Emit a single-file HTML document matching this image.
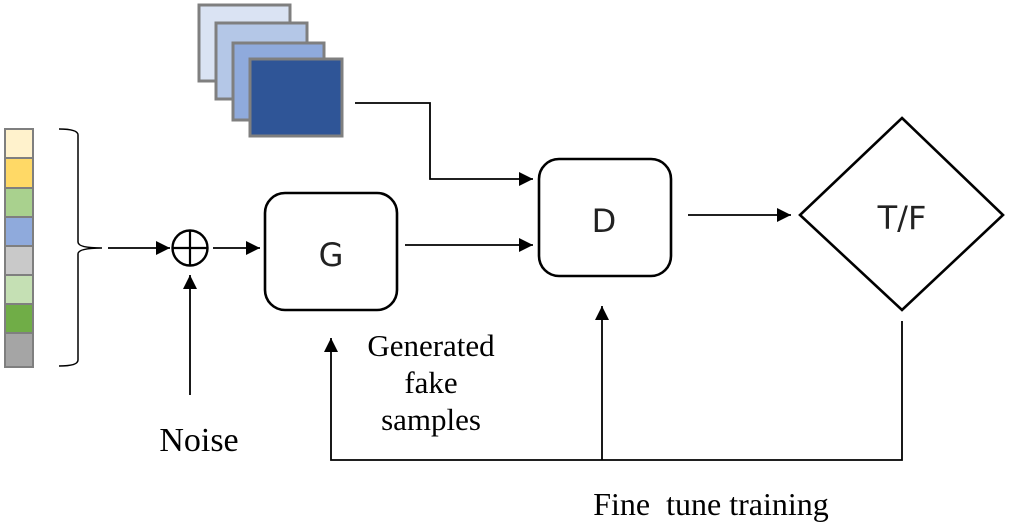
<!DOCTYPE html>
<html><head><meta charset="utf-8"><style>
html,body{margin:0;padding:0;background:#fff;}
svg{display:block;}
</style></head><body>
<svg width="1010" height="526" viewBox="0 0 1010 526" xmlns="http://www.w3.org/2000/svg">
<defs>
<marker id="b" viewBox="0 0 10 10" markerWidth="17" markerHeight="14" refX="10" refY="5" orient="auto" markerUnits="userSpaceOnUse"><path d="M0,0 L10,5 L0,10 z" fill="#000"/></marker></defs>
<g stroke="#7f7f7f" stroke-width="3">
<rect x="199" y="5" width="91" height="76" fill="#dae3f3"/>
<rect x="216" y="23" width="91" height="76" fill="#b4c7e7"/>
<rect x="233" y="43" width="91" height="77" fill="#8faadc"/>
<rect x="250" y="59" width="92" height="77" fill="#2f5597"/>
</g>
<g stroke="#7f7f7f" stroke-width="2">
<rect x="5" y="129" width="28" height="29" fill="#fff2cc"/>
<rect x="5" y="158" width="28" height="30" fill="#ffd966"/>
<rect x="5" y="188" width="28" height="29" fill="#a9d18e"/>
<rect x="5" y="217" width="28" height="29" fill="#8faadc"/>
<rect x="5" y="246" width="28" height="29" fill="#c9c9c9"/>
<rect x="5" y="275" width="28" height="29" fill="#c5e0b4"/>
<rect x="5" y="304" width="28" height="29" fill="#70ad47"/>
<rect x="5" y="333" width="28" height="34" fill="#a5a5a5"/>
</g>
<path d="M59,129 Q78,129 78,135 L78,242 Q78,248 102,248 Q78,248 78,254 L78,360 Q78,366 59,366" fill="none" stroke="#000" stroke-width="1.5"/>
<g stroke="#000" stroke-width="1.8" fill="none">
<line x1="108" y1="248" x2="170" y2="248" marker-end="url(#b)"/>
<circle cx="190" cy="248" r="17.5" stroke-width="2.4"/>
<line x1="172" y1="248" x2="208" y2="248" stroke-width="2.2"/>
<line x1="190" y1="230" x2="190" y2="266" stroke-width="2.2"/>
<line x1="213" y1="248" x2="260" y2="248" marker-end="url(#b)"/>
<line x1="190" y1="395" x2="190" y2="275" marker-end="url(#b)"/>
<rect x="265" y="193" width="132" height="117" rx="20" stroke-width="2.6"/>
<rect x="539" y="159" width="132" height="117" rx="20" stroke-width="2.6"/>
<polyline points="355,103 430,103 430,179 533,179" marker-end="url(#b)"/>
<line x1="405" y1="245" x2="533" y2="245" marker-end="url(#b)"/>
<line x1="688" y1="215" x2="791" y2="215" marker-end="url(#b)"/>
<polygon points="902,118 1003,215 902,310 800,215" stroke-width="2.6"/>
<polyline points="902,321 902,460 331,460 331,338" marker-end="url(#b)"/>
<line x1="602" y1="460" x2="602" y2="306" marker-end="url(#b)"/>
</g>
<g font-family="'DejaVu Sans','Liberation Sans',sans-serif" font-size="32" text-anchor="middle" fill="#222">
<text x="331" y="266">G</text>
<text x="604" y="232">D</text>
<text x="902" y="229">T/F</text>
</g>
<g font-family="'Liberation Serif',serif" font-size="31" text-anchor="middle" fill="#000">
<text x="431" y="356">Generated</text>
<text x="431" y="393">fake</text>
<text x="431" y="430">samples</text>
<text x="199" y="451" font-size="34">Noise</text>
<text x="711" y="515" font-size="32" xml:space="preserve">Fine  tune training</text>
</g>
</svg>
</body></html>
